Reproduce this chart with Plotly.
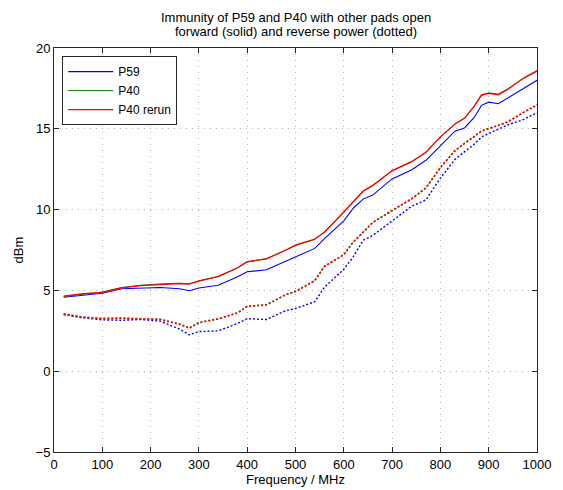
import plotly.graph_objects as go

freq = [20, 60, 100, 140, 180, 220, 260, 280, 300, 340, 380, 400, 440, 480, 500,
        540, 560, 600, 620, 640, 660, 700, 740, 770, 800, 830, 850, 870, 885, 900,
        920, 940, 970, 1000]

p59_fwd = [4.58, 4.72, 4.82, 5.10, 5.15, 5.18, 5.10, 4.98, 5.15, 5.32, 5.85, 6.15, 6.28, 6.80, 7.08,
           7.60, 8.20, 9.30, 10.10, 10.65, 10.90, 11.90, 12.45, 13.05, 13.95, 14.85, 15.05, 15.70, 16.45, 16.65,
           16.55, 16.90, 17.45, 18.00]
p40_fwd = [4.62, 4.78, 4.90, 5.18, 5.32, 5.40, 5.45, 5.38, 5.60, 5.85, 6.38, 6.75, 6.97, 7.48, 7.78,
           8.15, 8.62, 9.82, 10.48, 11.12, 11.48, 12.42, 12.97, 13.52, 14.48, 15.28, 15.68, 16.38, 17.05, 17.22,
           17.15, 17.48, 18.08, 18.55]
p40r_fwd = [4.65, 4.80, 4.88, 5.15, 5.30, 5.38, 5.42, 5.40, 5.58, 5.87, 6.40, 6.78, 6.95, 7.50, 7.80,
            8.18, 8.60, 9.85, 10.50, 11.15, 11.50, 12.40, 12.95, 13.55, 14.50, 15.30, 15.65, 16.40, 17.10, 17.20,
            17.10, 17.45, 18.10, 18.60]

p59_rev = [3.50, 3.30, 3.18, 3.15, 3.20, 3.10, 2.60, 2.25, 2.45, 2.50, 2.95, 3.25, 3.20, 3.75, 3.88,
           4.30, 5.20, 6.30, 7.10, 8.10, 8.40, 9.30, 10.20, 10.60, 11.95, 13.10, 13.55, 14.05, 14.50, 14.70,
           14.95, 15.25, 15.55, 16.00]
p40_rev = [3.52, 3.33, 3.27, 3.30, 3.22, 3.22, 2.92, 2.68, 3.02, 3.22, 3.62, 4.02, 4.12, 4.72, 4.95,
           5.62, 6.48, 7.22, 8.02, 8.58, 9.22, 9.92, 10.68, 11.32, 12.62, 13.62, 14.12, 14.52, 14.88, 15.00,
           15.22, 15.42, 15.98, 16.45]
p40r_rev = [3.55, 3.35, 3.25, 3.28, 3.25, 3.20, 2.90, 2.65, 3.00, 3.25, 3.60, 4.00, 4.10, 4.75, 4.92,
            5.60, 6.50, 7.20, 8.00, 8.60, 9.20, 9.95, 10.65, 11.35, 12.60, 13.65, 14.10, 14.55, 14.85, 15.03,
            15.20, 15.45, 15.95, 16.50]

x_ticks = [0, 100, 200, 300, 400, 500, 600, 700, 800, 900, 1000]
y_ticks = [-5, 0, 5, 10, 15, 20]

title_lines = ["Immunity of P59 and P40 with other pads open",
               "forward (solid) and reverse power (dotted)"]

BLUE = "#0000ff"
GREEN = "#008000"
RED = "#ff0000"

fig = go.Figure()
series = [
    ("P59", p59_fwd, p59_rev, BLUE, 1.1),
    ("P40", p40_fwd, p40_rev, GREEN, 1.0),
    ("P40 rerun", p40r_fwd, p40r_rev, RED, 1.3),
]
for name, fwd, rev, col, w in series:
    fig.add_trace(go.Scatter(x=freq, y=fwd, mode="lines", name=name,
                             line=dict(color=col, width=w)))
for name, fwd, rev, col, w in series:
    fig.add_trace(go.Scatter(x=freq, y=rev, mode="lines", name=name + " reverse",
                             showlegend=False,
                             line=dict(color=col, width=w + 0.3, dash="2px,2px")))

axis_common = dict(
    showline=True, linecolor="#262626", linewidth=1, mirror="allticks",
    ticks="inside", ticklen=5, tickcolor="#262626",
    showgrid=True, gridcolor="#b0b0b0", griddash="1px,5px", gridwidth=1,
    zeroline=False, tickfont=dict(size=13, color="black"), automargin=False,
)

fig.update_xaxes(range=[0, 1000], tickvals=x_ticks,
                 title=dict(text="Frequency / MHz", font=dict(size=13, color="black"), standoff=4),
                 **axis_common)
fig.update_yaxes(range=[-5, 20], tickvals=y_ticks,
                 title=dict(text="dBm", font=dict(size=13, color="black"), standoff=9),
                 **axis_common)

for i, line in enumerate(title_lines):
    fig.add_annotation(text=line, xref="paper", yref="paper", x=0.5, y=1.0,
                       xanchor="center", yanchor="bottom", showarrow=False,
                       yshift=21 - 14 * i, font=dict(size=13, color="black"))

# the page body adds an 8px margin, so the figure is 8px smaller than the window
fig.update_layout(
    width=555, height=482,
    margin=dict(l=46, r=26, t=40, b=38, autoexpand=False),
    paper_bgcolor="white", plot_bgcolor="white",
    font=dict(family="Liberation Sans, Arial, sans-serif", size=13, color="black"),
    legend=dict(x=0.017, y=0.98, xanchor="left", yanchor="top",
                bordercolor="#262626", borderwidth=1, bgcolor="white",
                font=dict(size=12, color="black"), tracegroupgap=0,
                itemwidth=45),
    showlegend=True,
)

fig.write_html("out.html")
